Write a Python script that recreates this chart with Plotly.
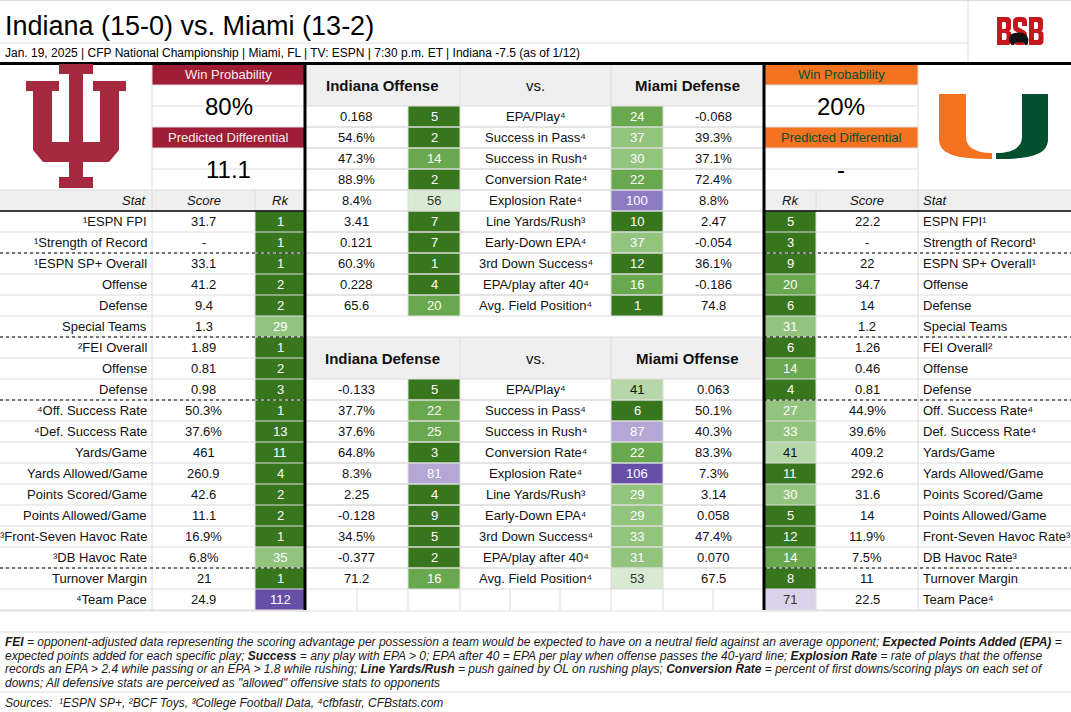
import plotly.graph_objects as go

# ---------------- DATA ----------------
title = "Indiana (15-0) vs. Miami (13-2)"
subtitle = "Jan. 19, 2025 | CFP National Championship | Miami, FL | TV: ESPN | 7:30 p.m. ET | Indiana -7.5 (as of 1/12)"

teams = ["Indiana", "Miami"]
win_prob = ["80%", "20%"]
pred_diff = ["11.1", "-"]

left_stats = ["¹ESPN FPI", "¹Strength of Record", "¹ESPN SP+ Overall", "Offense", "Defense",
              "Special Teams", "²FEI Overall", "Offense", "Defense", "⁴Off. Success Rate",
              "⁴Def. Success Rate", "Yards/Game", "Yards Allowed/Game", "Points Scored/Game",
              "Points Allowed/Game", "³Front-Seven Havoc Rate", "³DB Havoc Rate",
              "Turnover Margin", "⁴Team Pace"]
right_stats = ["ESPN FPI¹", "Strength of Record¹", "ESPN SP+ Overall¹", "Offense", "Defense",
               "Special Teams", "FEI Overall²", "Offense", "Defense", "Off. Success Rate⁴",
               "Def. Success Rate⁴", "Yards/Game", "Yards Allowed/Game", "Points Scored/Game",
               "Points Allowed/Game", "Front-Seven Havoc Rate³", "DB Havoc Rate³",
               "Turnover Margin", "Team Pace⁴"]
ind_scores = ["31.7", "-", "33.1", "41.2", "9.4", "1.3", "1.89", "0.81", "0.98", "50.3%",
              "37.6%", "461", "260.9", "42.6", "11.1", "16.9%", "6.8%", "21", "24.9"]
ind_ranks = [1, 1, 1, 2, 2, 29, 1, 2, 3, 1, 13, 11, 4, 2, 2, 1, 35, 1, 112]
mia_ranks = [5, 3, 9, 20, 6, 31, 6, 14, 4, 27, 33, 41, 11, 30, 5, 12, 14, 8, 71]
mia_scores = ["22.2", "-", "22", "34.7", "14", "1.2", "1.26", "0.46", "0.81", "44.9%",
              "39.6%", "409.2", "292.6", "31.6", "14", "11.9%", "7.5%", "11", "22.5"]

matchup_labels = ["EPA/Play⁴", "Success in Pass⁴", "Success in Rush⁴", "Conversion Rate⁴",
                  "Explosion Rate⁴", "Line Yards/Rush³", "Early-Down EPA⁴", "3rd Down Success⁴",
                  "EPA/play after 40⁴", "Avg. Field Position⁴"]
ind_off_vals = ["0.168", "54.6%", "47.3%", "88.9%", "8.4%", "3.41", "0.121", "60.3%", "0.228", "65.6"]
ind_off_ranks = [5, 2, 14, 2, 56, 7, 7, 1, 4, 20]
mia_def_ranks = [24, 37, 30, 22, 100, 10, 37, 12, 16, 1]
mia_def_vals = ["-0.068", "39.3%", "37.1%", "72.4%", "8.8%", "2.47", "-0.054", "36.1%", "-0.186", "74.8"]

ind_def_vals = ["-0.133", "37.7%", "37.6%", "64.8%", "8.3%", "2.25", "-0.128", "34.5%", "-0.377", "71.2"]
ind_def_ranks = [5, 22, 25, 3, 81, 4, 9, 5, 2, 16]
mia_off_ranks = [41, 6, 87, 22, 106, 29, 29, 33, 31, 53]
mia_off_vals = ["0.063", "50.1%", "40.3%", "83.3%", "7.3%", "3.14", "0.058", "47.4%", "0.070", "67.5"]

section_dividers = [1, 5, 8, 16]   # dotted line after these stat rows

footnote_lines = [
    "<b>FEI</b> = opponent-adjusted data representing the scoring advantage per possession a team would be expected to have on a neutral field against an average opponent; <b>Expected Points Added (EPA)</b> =",
    "expected points added for each specific play; <b>Success</b> = any play with EPA &gt; 0; EPA after 40 = EPA per play when offense passes the 40-yard line; <b>Explosion Rate</b> = rate of plays that the offense",
    "records an EPA &gt; 2.4 while passing or an EPA &gt; 1.8 while rushing; <b>Line Yards/Rush</b> = push gained by OL on rushing plays; <b>Conversion Rate</b> = percent of first downs/scoring plays on each set of",
    "downs; All defensive stats are perceived as \"allowed\" offensive stats to opponents",
]
sources = "Sources:\u00a0 ¹ESPN SP+, ²BCF Toys, ³College Football Data, ⁴cfbfastr, CFBstats.com"

# ---------------- STYLE / LAYOUT ----------------
W, H = 1071, 712
FONT = "Liberation Sans, Arial, sans-serif"
TXT = "#111111"
GRID = "#dcdcdc"
HDR_BG = "#efefef"
CRIMSON = "#9f1d35"
IU_RED = "#a52a3f"
ORANGE = "#f47321"
UM_GREEN = "#005030"
BSB_RED = "#c8161d"

ROW0, RH = 64, 21
def top(k):
    return ROW0 + RH * k
def mid(k):
    return ROW0 + RH * k + RH / 2

# column edges
L_STAT, L_SCORE, L_RK = (0, 152), (152, 255), (255, 305)
M_EDGES = [305, 357, 408, 460, 510, 560, 611, 663, 713, 764]
R_RK, R_SCORE, R_STAT = (764, 816), (816, 918), (918, 1071)

def rank_colors(r):
    if r <= 13:
        return "#38761d", "white"
    if r <= 25:
        return "#6aa84f", "white"
    if r <= 40:
        return "#93c47d", "white"
    if r <= 50:
        return "#b6d7a8", TXT
    if r <= 65:
        return "#d9ead3", "#333333"
    if r <= 75:
        return "#d9d2e9", "#333333"
    if r <= 90:
        return "#b4a7d6", "white"
    if r <= 100:
        return "#8e7cc3", "white"
    return "#674ea7", "white"

shapes = []
annots = []

def rect(x0, x1, y0, y1, fill):
    shapes.append(dict(type="rect", xref="x", yref="y", x0=x0, x1=x1, y0=y0, y1=y1,
                       fillcolor=fill, line=dict(width=0), layer="below"))

def hline(y, x0, x1, color=GRID, width=1, dash=None):
    ln = dict(color=color, width=width)
    if dash:
        ln["dash"] = dash
    shapes.append(dict(type="line", xref="x", yref="y", x0=x0, x1=x1, y0=y, y1=y, line=ln))

def vline(x, y0, y1, color=GRID, width=1):
    shapes.append(dict(type="line", xref="x", yref="y", x0=x, x1=x, y0=y0, y1=y1,
                       line=dict(color=color, width=width)))

def path(p, fill):
    shapes.append(dict(type="path", xref="x", yref="y", path=p, fillcolor=fill,
                       line=dict(width=0), fillrule="evenodd"))

def txt(x, y, s, size=13, color=TXT, xanchor="center", family=FONT):
    annots.append(dict(x=x, y=y, xref="x", yref="y", text=s, showarrow=False,
                       xanchor=xanchor, yanchor="middle",
                       font=dict(size=size, color=color, family=family)))

def cx(c):
    return (c[0] + c[1]) / 2

# ---------- header ----------
hline(0.5, 0, W)
hline(43, 0, 968)
vline(968, 0, 63)
txt(3, 25.5, title, size=27, color="#000000", xanchor="left")
txt(3, 53, subtitle, size=12, color="#000000", xanchor="left")

# BSB logo drawn as block letters + bison silhouette
def letter_b(x0):
    return (f"M{x0},17 L{x0+10},17 Q{x0+14},17 {x0+14},21 L{x0+14},28 Q{x0+14},30.5 {x0+12},31 "
            f"Q{x0+14.5},31.5 {x0+14.5},34 L{x0+14.5},41 Q{x0+14.5},45 {x0+10.5},45 L{x0},45 Z "
            f"M{x0+5},22 L{x0+8},22 L{x0+9},23 L{x0+9},28 L{x0+8},29 L{x0+5},29 Z "
            f"M{x0+5},33 L{x0+8.5},33 L{x0+9.5},34 L{x0+9.5},39 L{x0+8.5},40 L{x0+5},40 Z")
path(letter_b(997), BSB_RED)
path("M1013,22 Q1013,17 1018,17 L1022,17 Q1027,17 1027,22 L1027,26 L1022,26 L1022,22 L1018,22 "
     "L1018,27 L1025,31 Q1027,32 1027,35 L1027,40 Q1027,45 1022,45 L1018,45 Q1013,45 1013,40 "
     "L1013,36 L1018,36 L1018,40 L1022,40 L1022,35 L1015,31 Q1013,30 1013,27 Z", BSB_RED)
path(letter_b(1029), BSB_RED)
path("M1009,40 C1009,34 1014,32 1020,32.5 C1025,33 1028,36 1028.5,40 L1027.5,45 L1025,45 L1024,42.5 "
     "L1015,42.5 L1014,45 L1011.5,45 Z", "#111111")

# ---------- win probability boxes ----------
for i, (bx, hfill, hcol) in enumerate([((152, 305), CRIMSON, "#f4eef0"), ((764, 918), ORANGE, UM_GREEN)]):
    rect(bx[0], bx[1], top(0), top(1), hfill)
    rect(bx[0], bx[1], top(3), top(4), hfill)
    txt(cx(bx), mid(0), "Win Probability", size=13, color=hcol)
    txt(cx(bx), top(2), win_prob[i], size=24, color="#000000")
    txt(cx(bx), mid(3), "Predicted Differential", size=13, color=hcol)
    txt(cx(bx), top(5), pred_diff[i], size=24, color="#000000")
    for k in range(1, 6):
        hline(top(k), bx[0], bx[1])
vline(152, top(0), top(26))
vline(918, top(0), top(26))

# ---------- side stat tables ----------
n = len(left_stats)
for side in ("L", "R"):
    xs = (0, 305) if side == "L" else (764, W)
    rect(xs[0], xs[1], top(6), top(7), HDR_BG)
    for k in range(6, 7 + n + 1):
        hline(top(k), xs[0], xs[1])
txt(L_STAT[1] - 3, mid(6), "<i>Stat</i>", xanchor="right")
txt(cx(L_SCORE), mid(6), "<i>Score</i>")
txt(cx(L_RK), mid(6), "<i>Rk</i>")
txt(cx(R_RK), mid(6), "<i>Rk</i>")
txt(cx(R_SCORE), mid(6), "<i>Score</i>")
txt(R_STAT[0] + 3, mid(6), "<i>Stat</i>", xanchor="left")
vline(255, top(6), top(26))
vline(816, top(6), top(26))

for i in range(n):
    k = 7 + i
    fc, tc = rank_colors(ind_ranks[i])
    rect(L_RK[0], L_RK[1], top(k), top(k + 1), fc)
    txt(cx(L_RK), mid(k), str(ind_ranks[i]), color=tc)
    txt(L_STAT[1] - 3, mid(k), left_stats[i], xanchor="right")
    txt(cx(L_SCORE), mid(k), ind_scores[i])
    fc, tc = rank_colors(mia_ranks[i])
    rect(R_RK[0], R_RK[1], top(k), top(k + 1), fc)
    txt(cx(R_RK), mid(k), str(mia_ranks[i]), color=tc)
    txt(cx(R_SCORE), mid(k), mia_scores[i])
    txt(R_STAT[0] + 3, mid(k), right_stats[i], xanchor="left")

# black rule under stat header
hline(top(7), 0, 305, color="#000000", width=1.5)
hline(top(7), 764, W, color="#000000", width=1.5)
# dotted section dividers
for d in section_dividers:
    y = top(7 + d + 1)
    hline(y, 0, 305, color="#000000", width=1, dash="dot")
    hline(y, 764, W, color="#000000", width=1, dash="dot")

# ---------- middle matchup blocks ----------
blocks = [
    (0, "Indiana Offense", "Miami Defense", ind_off_vals, ind_off_ranks, mia_def_ranks, mia_def_vals),
    (13, "Indiana Defense", "Miami Offense", ind_def_vals, ind_def_ranks, mia_off_ranks, mia_off_vals),
]
E = M_EDGES
for (k0, h1, h2, v1, r1, r2, v2) in blocks:
    rect(E[0], E[-1], top(k0), top(k0 + 2), HDR_BG)
    hline(top(k0), E[0], E[-1])
    vline(E[3], top(k0), top(k0 + 2))
    vline(E[6], top(k0), top(k0 + 2))
    txt((E[0] + E[3]) / 2, top(k0 + 1), "<b>" + h1 + "</b>", size=15)
    txt((E[3] + E[6]) / 2, top(k0 + 1), "vs.", size=15)
    txt((E[6] + E[-1]) / 2, top(k0 + 1), "<b>" + h2 + "</b>", size=15)
    for j in range(len(matchup_labels)):
        k = k0 + 2 + j
        hline(top(k), E[0], E[-1])
        hline(top(k + 1), E[0], E[-1])
        for xe in (E[2], E[3], E[6], E[7]):
            vline(xe, top(k), top(k + 1))
        fc, tc = rank_colors(r1[j])
        rect(E[2], E[3], top(k), top(k + 1), fc)
        txt((E[2] + E[3]) / 2, mid(k), str(r1[j]), color=tc)
        fc, tc = rank_colors(r2[j])
        rect(E[6], E[7], top(k), top(k + 1), fc)
        txt((E[6] + E[7]) / 2, mid(k), str(r2[j]), color=tc)
        txt((E[0] + E[2]) / 2, mid(k), v1[j])
        txt((E[3] + E[6]) / 2, mid(k), matchup_labels[j])
        txt((E[7] + E[-1]) / 2, mid(k), v2[j])
# empty grid row (team pace row) in middle
for xe in E[1:-1]:
    vline(xe, top(25), top(26))

# thick black frame lines
hline(63.5, 0, W, color="#000000", width=3)
vline(305, 62, top(26), color="#000000", width=3)
vline(764, 62, top(26), color="#000000", width=3)

# ---------- footer ----------
hline(top(26) + 1, 0, W)
hline(632, 0, W)
hline(692, 0, W)
for i, line in enumerate(footnote_lines):
    txt(3, 642 + 13.7 * i, "<i>" + line + "</i>", size=12, color="#1a1a1a", xanchor="left")
txt(3, 703, "<i>" + sources + "</i>", size=12, color="#1a1a1a", xanchor="left")

# ---------- logos ----------
path("M59,64 L93,64 L93,74 L83,74 L83,177 L93,177 L93,188 L59,188 L59,177 L69,177 L69,74 L59,74 Z", IU_RED)
path("M26,81 L59,81 L59,91 L52,91 L52,142 L100,142 L100,91 L93,91 L93,81 L126,81 L126,91 L119,91 "
     "L119,150 L109,162 L43,162 L33,150 L33,91 L26,91 Z", IU_RED)
path("M939,94 L966,94 L966,137 C966,147 975,153 992,153 L992,159 C955,159 939,154 939,139 Z", ORANGE)
path("M1048,94 L1022,94 L1022,137 C1022,147 1013,153 996,153 L996,159 C1033,159 1048,154 1048,139 Z", UM_GREEN)

fig = go.Figure()
fig.update_layout(
    width=W, height=H,
    margin=dict(l=0, r=0, t=0, b=0),
    paper_bgcolor="white", plot_bgcolor="white",
    xaxis=dict(range=[0, W], visible=False, fixedrange=True),
    yaxis=dict(range=[H, 0], visible=False, fixedrange=True),
    shapes=shapes, annotations=annots, showlegend=False,
    font=dict(family=FONT),
)
fig.write_html("out.html", config={"displayModeBar": False, "staticPlot": True},
               post_script="document.body.style.margin='0px';document.body.style.overflow='hidden';")
